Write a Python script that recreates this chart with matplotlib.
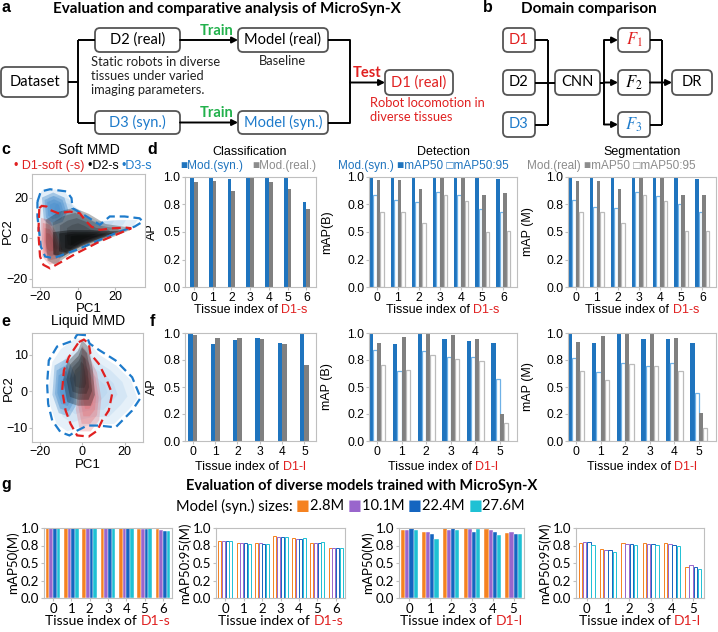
import matplotlib
matplotlib.use('Agg')
import matplotlib.pyplot as plt
import numpy as np
from matplotlib.patches import FancyBboxPatch, Polygon
from matplotlib.ticker import FormatStrFormatter

plt.rcParams['mathtext.fontset'] = 'stix'

# ---------------- data ----------------
tissues_s = [0, 1, 2, 3, 4, 5, 6]
tissues_l = [0, 1, 2, 3, 4, 5]

cls_s_syn = [1.0, 1.0, 0.98, 1.0, 1.0, 1.0, 0.775]
cls_s_real = [0.95, 0.965, 0.875, 0.995, 0.95, 0.89, 0.71]
det_s_syn50 = [1.0, 1.0, 1.0, 1.0, 1.0, 1.0, 0.98]
det_s_syn5095 = [0.835, 0.79, 0.775, 0.86, 0.84, 0.71, 0.68]
det_s_real50 = [0.97, 0.97, 0.89, 1.0, 1.0, 0.84, 0.85]
det_s_real5095 = [0.68, 0.685, 0.58, 0.84, 0.785, 0.50, 0.51]
seg_s_syn50 = [1.0, 1.0, 1.0, 1.0, 1.0, 1.0, 0.985]
seg_s_syn5095 = [0.79, 0.73, 0.72, 0.86, 0.83, 0.75, 0.685]
seg_s_real50 = [0.965, 0.96, 0.89, 1.0, 1.0, 0.835, 0.84]
seg_s_real5095 = [0.685, 0.68, 0.58, 0.835, 0.78, 0.505, 0.51]

cls_l_syn = [0.988, 0.896, 0.936, 0.957, 0.905, 0.994]
cls_l_real = [0.98, 0.957, 0.95, 0.945, 0.902, 0.70]
det_l_syn50 = [0.994, 0.90, 1.0, 0.94, 0.93, 0.91]
det_l_syn5095 = [0.84, 0.645, 0.83, 0.78, 0.774, 0.575]
det_l_real50 = [0.91, 0.966, 1.0, 0.98, 0.945, 0.25]
det_l_real5095 = [0.70, 0.657, 0.80, 0.76, 0.737, 0.17]
seg_l_syn50 = [1.0, 0.908, 1.0, 0.948, 0.948, 0.908]
seg_l_syn5095 = [0.77, 0.64, 0.726, 0.69, 0.723, 0.44]
seg_l_real50 = [0.917, 0.97, 1.0, 0.988, 0.957, 0.255]
seg_l_real5095 = [0.65, 0.563, 0.717, 0.69, 0.65, 0.123]

size_labels = ['2.8M', '10.1M', '22.4M', '27.6M']
g_s_map50 = [[1.0, 1.0, 0.98, 1.0, 1.0, 0.99, 0.98],
             [1.0, 1.0, 1.0, 1.0, 1.0, 0.98, 0.975],
             [1.0, 1.0, 1.0, 1.0, 1.0, 0.98, 0.96],
             [1.0, 1.0, 1.0, 1.0, 1.0, 1.0, 0.96]]
g_s_map5095 = [[0.81, 0.78, 0.78, 0.88, 0.86, 0.79, 0.72],
               [0.82, 0.79, 0.78, 0.87, 0.85, 0.78, 0.71],
               [0.82, 0.78, 0.77, 0.87, 0.85, 0.79, 0.72],
               [0.82, 0.77, 0.77, 0.87, 0.86, 0.80, 0.72]]
g_l_map50 = [[0.975, 0.95, 1.0, 1.0, 0.98, 0.925],
             [0.975, 0.95, 0.97, 0.99, 0.975, 0.94],
             [1.0, 0.91, 1.0, 0.95, 0.95, 0.91],
             [0.97, 0.846, 0.975, 0.985, 0.90, 0.91]]
g_l_map5095 = [[0.78, 0.70, 0.78, 0.78, 0.78, 0.45],
               [0.80, 0.69, 0.77, 0.77, 0.77, 0.47],
               [0.80, 0.68, 0.77, 0.77, 0.76, 0.45],
               [0.76, 0.66, 0.76, 0.76, 0.75, 0.42]]

# PCA cloud regions (data coords) and dashed hulls
soft_blue_cloud = [(-21, 20), (-19, 23.5), (-12, 24), (-6, 22), (-3, 17), (3, 12), (12, 8), (22, 9), (32, 9),
                   (30, 6), (20, 3), (8, -1), (-2, -5), (-12, -9), (-17, -8), (-20, -2)]
soft_blue_core = [(-19, 20), (-13, 22.5), (-7, 20), (-5, 14), (-8, 8), (-14, 6), (-18, 9)]
soft_black_cloud = [(-17, 9), (-10, 13), (-2, 15), (6, 12), (15, 7), (26, 5.5), (28, 4), (20, 1), (8, -3),
                    (-4, -8), (-12, -13), (-16, -11), (-17, -2)]
soft_black_core = [(-13, 3), (-4, 4), (6, 4), (16, 3.5), (24, 3.5), (14, 0), (2, -4), (-8, -9), (-13, -8)]
soft_red_cloud = [(-19.5, 10), (-15, 9), (-11, 2), (-8, -6), (-10, -12), (-15, -13), (-19, -9), (-20, 0)]
soft_blue_hull = [(-21.4, 18.0), (-19.6, 23.0), (-14.7, 24.1), (-5.8, 23.0), (-3.2, 19.7), (-2.7, 14.8),
                  (4.8, 10.7), (11.9, 6.6), (17.2, 10.7), (25.1, 10.7), (33.1, 9.8), (34.9, 8.2), (30.4, 5.7),
                  (22.5, 3.3), (11.9, -0.8), (-0.5, -5.7), (-12.9, -9.8), (-17.3, -9.0), (-19.6, -4.1),
                  (-21.4, 10.7)]
soft_red_hull = [(-20.4, 14.8), (-19.1, 15.9), (-16.5, 15.6), (-14.7, 13.9), (-10.3, 12.3), (-4.1, 13.1),
                 (1.2, 12.3), (3.9, 9.0), (7.4, 5.7), (11.9, 4.1), (18.9, 4.9), (26.0, 5.2), (28.7, 4.9),
                 (22.5, 2.5), (11.9, -1.6), (-0.5, -7.4), (-14.7, -14.8), (-18.2, -13.1), (-20.0, -9.0),
                 (-20.9, 2.5)]

liq_blue_cloud = [(-3, 14.5), (2, 14), (8, 10), (16, 7), (23, 3), (26, -2), (22, -5), (15, -9), (6, -9),
                  (-2, -10), (-7, -11), (-12, -9), (-15, -4), (-15.5, 2), (-14, 8), (-10, 11.5)]
liq_blue_core = [(-13, 7), (-7, 9), (-3, 4), (-3, -4), (-6, -7), (-11, -6), (-14, -1)]
liq_black_cloud = [(0, 14), (3, 12), (5, 6), (6, -1), (4, -4), (-2, -4), (-7, -3), (-9, 3), (-7, 8), (-2, 11)]
liq_red_cloud = [(0, 12.5), (3, 10), (7, 5), (9, -2), (8, -8), (4, -11), (-1, -11), (-3, -5), (-1, 3)]
liq_blue_hull = [(-2.4, 15.5), (1.9, 15.3), (3.5, 13.0), (7.8, 11.3), (15.7, 8.4), (23.5, 3.8), (27.5, -1.8),
                 (23.5, -5.3), (15.7, -9.9), (7.8, -9.4), (2.4, -9.4), (-2.4, -10.8), (-6.0, -12.1),
                 (-10.2, -11.2), (-14.1, -8.0), (-16.0, -3.5), (-16.5, 2.0), (-15.7, 8.4), (-11.8, 12.2),
                 (-3.9, 13.9)]
liq_red_hull = [(-1.6, 13.4), (0.8, 14.1), (3.1, 13.0), (3.9, 10.2), (7.8, 7.5), (11.0, 3.8), (14.1, -0.7),
                (12.5, -5.3), (9.4, -8.0), (7.1, -10.8), (3.1, -12.4), (-2.4, -12.1), (-5.5, -8.9),
                (-7.8, -5.3), (-9.4, 0.2), (-8.6, 5.7), (-6.3, 9.3), (-3.1, 12.1)]

# ---------------- style ----------------
RED = '#E02020'
BLUE = '#1E7BCB'
GREEN = '#22B14C'
BAR_BLUE = '#1F74BE'
HOL_BLUE = '#6FB1E6'
BAR_GRAY = '#808080'
HOL_GRAY = '#BBBBBB'
SPINE = '#BFBFBF'
SIZE_COLORS = ['#F58220', '#9966CC', '#1565C0', '#1FC1D4']
ARIAL = ['Liberation Sans', 'DejaVu Sans']
CAL = ['Lato', 'DejaVu Sans']

W, H = 718, 632
fig = plt.figure(figsize=(W / 100, H / 100), dpi=100)


def rect(l, t, r, b):
    return [l / W, 1 - b / H, (r - l) / W, (b - t) / H]


ov = fig.add_axes([0, 0, 1, 1])
ov.set_xlim(0, W)
ov.set_ylim(H, 0)
ov.axis('off')
ov.patch.set_alpha(0)
renderer = fig.canvas.get_renderer()


def rich(x, y, parts, fs=8.5, family=ARIAL, weight='normal', ha='center'):
    ts = [ov.text(0, y, s, color=c, fontsize=fs, family=family, weight=weight, ha='left', va='center')
          for s, c in parts]
    ws = [t.get_window_extent(renderer).width for t in ts]
    x0 = x - sum(ws) / 2 if ha == 'center' else x
    for t, w in zip(ts, ws):
        t.set_x(x0)
        x0 += w


def dbox(l, t, r, b, label, color='black', fs=10.5, family=CAL):
    p = FancyBboxPatch((l, t), r - l, b - t, boxstyle='round,pad=0,rounding_size=5',
                       ec='#555555', fc='white', lw=1.3)
    ov.add_patch(p)
    ov.text((l + r) / 2, (t + b) / 2, label, color=color, fontsize=fs, family=family, ha='center', va='center')


def line(xs, ys):
    ov.plot(xs, ys, color='black', lw=1.4, solid_capstyle='butt')


def arrow(x0, y0, x1, y1):
    ov.annotate('', xy=(x1, y1), xytext=(x0, y0),
                arrowprops=dict(arrowstyle='-|>,head_length=0.35,head_width=0.18', color='black', lw=1.4,
                                shrinkA=0, shrinkB=0))


def letter(x, y, s):
    ov.text(x, y, s, fontsize=11.5, weight='bold', family=ARIAL, ha='left', va='center')


# ---------------- panel a ----------------
letter(1, 8, 'a')
ov.text(227, 9, 'Evaluation and comparative analysis of MicroSyn-X', fontsize=11, weight='bold',
        family=CAL, ha='center', va='center')
dbox(1, 67, 68, 97, 'Dataset')
dbox(95, 28, 180, 52, 'D2 (real)')
dbox(238, 28, 328, 52, 'Model (real)')
dbox(95, 111, 180, 134, 'D3 (syn.)', color=BLUE)
dbox(238, 111, 328, 134, 'Model (syn.)', color=BLUE)
dbox(385, 70, 453, 95, 'D1 (real)', color=RED)
line([68, 78], [82, 82])
line([78, 78], [40, 122.5])
line([78, 95], [40, 40])
line([78, 95], [122.5, 122.5])
arrow(180, 40, 238, 40)
arrow(180, 122.5, 238, 122.5)
ov.text(217, 31, 'Train', color=GREEN, fontsize=10.5, weight='bold', family=CAL, ha='center', va='center')
ov.text(217, 113, 'Train', color=GREEN, fontsize=10.5, weight='bold', family=CAL, ha='center', va='center')
line([328, 350, 350, 328], [40, 40, 122.5, 122.5])
arrow(350, 82.5, 385, 82.5)
ov.text(367, 73, 'Test', color=RED, fontsize=10.5, weight='bold', family=CAL, ha='center', va='center')
ov.text(91, 76, 'Static robots in diverse\ntissues under varied\nimaging parameters.', fontsize=9.3,
        family=CAL, ha='left', va='center', linespacing=1.15, color='#222222')
ov.text(282, 61, 'Baseline', fontsize=9.3, family=CAL, ha='center', va='center', color='#222222')
ov.text(370, 110, 'Robot locomotion in\ndiverse tissues', fontsize=9.3, family=CAL, ha='left', va='center',
        linespacing=1.15, color=RED)

# ---------------- panel b ----------------
letter(483, 8, 'b')
ov.text(589, 9, 'Domain comparison', fontsize=11, weight='bold', family=CAL, ha='center', va='center')
dbox(503, 28, 535, 52, 'D1', color=RED)
dbox(503, 70, 535, 95, 'D2')
dbox(503, 112, 535, 137, 'D3', color=BLUE)
dbox(555, 70, 600, 95, 'CNN')
dbox(618, 28, 650, 52, r'$\mathit{F}_1$', color=RED, fs=12)
dbox(618, 70, 650, 95, r'$\mathit{F}_2$', fs=12)
dbox(618, 112, 650, 137, r'$\mathit{F}_3$', color=BLUE, fs=12)
dbox(672, 70, 712, 95, 'DR')
line([535, 548], [40, 40])
line([535, 548], [124.5, 124.5])
line([548, 548], [40, 124.5])
line([535, 555], [82.5, 82.5])
line([600, 604], [82.5, 82.5])
line([604, 604], [40, 124.5])
arrow(604, 40, 618, 40)
arrow(604, 82.5, 618, 82.5)
arrow(604, 124.5, 618, 124.5)
line([650, 662], [40, 40])
line([650, 662], [124.5, 124.5])
line([662, 662], [40, 124.5])
arrow(650, 82.5, 672, 82.5)


# ---------------- panels c / e ----------------
def scale_poly(pts, s):
    a = np.array(pts, dtype=float)
    c = a.mean(axis=0)
    return c + (a - c) * s


def cloud(ax, pts, color, alphas):
    for s, a in zip([1.0, 0.8, 0.6, 0.4], alphas):
        ax.add_patch(Polygon(scale_poly(pts, s), closed=True, fc=color, ec='none', alpha=a, lw=0))


def hull(ax, pts, color):
    ax.add_patch(Polygon(pts, closed=True, fill=False, ec=color, lw=1.6, ls=(0, (4, 2.2))))


def style_scatter_axes(ax):
    for sp in ax.spines.values():
        sp.set_color(SPINE)
    ax.tick_params(labelsize=9, length=2, color=SPINE, pad=1)
    for lab in ax.get_xticklabels() + ax.get_yticklabels():
        lab.set_family(ARIAL)


letter(1, 150, 'c')
axc = fig.add_axes(rect(32, 174, 145, 287))
cloud(axc, soft_blue_cloud, '#7BB3E3', [0.22, 0.18, 0.15, 0.12])
cloud(axc, soft_blue_core, '#2C7CC4', [0.35, 0.3, 0.25, 0.2])
cloud(axc, soft_red_cloud, '#E0393E', [0.25, 0.25, 0.25, 0.25])
cloud(axc, soft_black_cloud, '#1A1A1A', [0.3, 0.25, 0.25, 0.2])
cloud(axc, soft_black_core, '#000000', [0.4, 0.35, 0.3, 0.25])
hull(axc, soft_blue_hull, BLUE)
hull(axc, soft_red_hull, RED)
axc.set_xlim(-24.3, 36)
axc.set_ylim(-24, 31.6)
axc.set_xticks([-20, 0, 20])
axc.set_yticks([-20, 0, 20])
style_scatter_axes(axc)
ov.text(89, 150, 'Soft MMD', fontsize=10, family=ARIAL, ha='center', va='center')
rich(83, 166, [('• D1-soft (-s) ', RED), ('•D2-s ', 'black'), ('•D3-s', BLUE)], fs=9)
ov.text(89, 309, 'PC1', fontsize=9.5, family=ARIAL, ha='center', va='center')
ov.text(8, 231, 'PC2', fontsize=9.5, family=ARIAL, ha='center', va='center', rotation=90)

letter(1, 322, 'e')
axe = fig.add_axes(rect(32, 333, 143, 442))
cloud(axe, liq_blue_cloud, '#8CBDE6', [0.22, 0.18, 0.18, 0.15])
cloud(axe, liq_blue_core, '#2C7CC4', [0.3, 0.3, 0.25, 0.2])
cloud(axe, liq_red_cloud, '#E8585C', [0.25, 0.25, 0.25, 0.25])
cloud(axe, liq_black_cloud, '#111111', [0.3, 0.3, 0.25, 0.2])
hull(axe, liq_blue_hull, BLUE)
hull(axe, liq_red_hull, RED)
axe.set_xlim(-23.6, 28.6)
axe.set_ylim(-13.9, 15.9)
axe.set_xticks([-20, 0, 20])
axe.set_yticks([-10, 0, 10])
style_scatter_axes(axe)
ov.text(88, 321, 'Liquid MMD', fontsize=10, family=ARIAL, ha='center', va='center')
ov.text(34, 339, '• D1-l', fontsize=9.5, family=ARIAL, ha='left', va='center', color=RED)
ov.text(108, 341, '• D2-l', fontsize=9.5, family=ARIAL, ha='left', va='center', color='black')
ov.text(108, 353, '• D3-l', fontsize=9.5, family=ARIAL, ha='left', va='center', color=BLUE)
ov.text(88, 465, 'PC1', fontsize=9.5, family=ARIAL, ha='center', va='center')
ov.text(9, 388, 'PC2', fontsize=9.5, family=ARIAL, ha='center', va='center', rotation=90)


# ---------------- panels d / f ----------------
def bar_axes(box_px, cats, series, styles, width, xlim, ylabel, ylab_x, xlab_y, dset):
    ax = fig.add_axes(rect(*box_px))
    x = np.arange(len(cats))
    n = len(series)
    for i, (vals, (col, hollow)) in enumerate(zip(series, styles)):
        off = (i - (n - 1) / 2) * width
        if hollow:
            ax.bar(x + off, vals, width, facecolor='white', edgecolor=col, linewidth=0.9)
        else:
            ax.bar(x + off, vals, width, color=col, linewidth=0)
    ax.set_xlim(*xlim)
    ax.set_ylim(0, 1.0)
    ax.set_xticks(x)
    ax.set_xticklabels([str(c) for c in cats])
    ax.set_yticks([0, 0.25, 0.5, 0.75, 1.0])
    ax.yaxis.set_major_formatter(FormatStrFormatter('%.1f'))
    for sp in ax.spines.values():
        sp.set_color(SPINE)
    ax.tick_params(labelsize=8.7, length=2, color=SPINE, pad=1.5)
    for lab in ax.get_xticklabels() + ax.get_yticklabels():
        lab.set_family(ARIAL)
    yc = (box_px[1] + box_px[3]) / 2
    ov.text(ylab_x, yc, ylabel, fontsize=9, family=ARIAL, rotation=90, ha='center', va='center')
    xc = (box_px[0] + box_px[2]) / 2
    rich(xc, xlab_y, [('Tissue index of ', 'black'), (dset, RED)], fs=9)
    return ax


S2 = [(BAR_BLUE, False), (BAR_GRAY, False)]
S4 = [(BAR_BLUE, False), (HOL_BLUE, True), (BAR_GRAY, False), (HOL_GRAY, True)]

letter(147, 150, 'd')
ov.text(250, 152, 'Classification', fontsize=9, family=ARIAL, ha='center', va='center')
ov.text(443, 152, 'Detection', fontsize=9, family=ARIAL, ha='center', va='center')
ov.text(642, 152, 'Segmentation', fontsize=9, family=ARIAL, ha='center', va='center')
rich(212, 166, [('■Mod.(syn.)', BAR_BLUE)], fs=8.5)
rich(284, 166, [('■Mod.(real.)', '#8C8C8C')], fs=8.5)
rich(423, 166, [('Mod.(syn.) ■mAP50 □mAP50:95', BAR_BLUE)], fs=8.5)
rich(611, 166, [('Mod.(real) ■mAP50 □mAP50:95', '#8C8C8C')], fs=8.5)

bar_axes((185, 177, 316, 287), tissues_s, [cls_s_syn, cls_s_real], S2, 0.2, (-0.48, 6.52), 'AP', 152, 310, 'D1-s')
bar_axes((369, 177, 517, 287), tissues_s, [det_s_syn50, det_s_syn5095, det_s_real50, det_s_real5095], S4,
         0.17, (-0.36, 6.65), 'mAP(B)', 327, 310, 'D1-s')
bar_axes((568, 177, 716, 287), tissues_s, [seg_s_syn50, seg_s_syn5095, seg_s_real50, seg_s_real5095], S4,
         0.17, (-0.36, 6.65), 'mAP (M)', 528, 310, 'D1-s')

letter(150, 322, 'f')
bar_axes((185, 333, 316, 441), tissues_l, [cls_l_syn, cls_l_real], S2, 0.2, (-0.35, 5.52), 'AP', 152, 467, 'D1-l')
bar_axes((369, 333, 517, 441), tissues_l, [det_l_syn50, det_l_syn5095, det_l_real50, det_l_real5095], S4,
         0.17, (-0.33, 5.7), 'mAP (B)', 327, 467, 'D1-l')
bar_axes((568, 333, 716, 441), tissues_l, [seg_l_syn50, seg_l_syn5095, seg_l_real50, seg_l_real5095], S4,
         0.17, (-0.33, 5.7), 'mAP (M)', 528, 467, 'D1-l')

# ---------------- panel g ----------------
letter(1, 484, 'g')
ov.text(362, 486, 'Evaluation of diverse models trained with MicroSyn-X', fontsize=10.5, weight='bold',
        family=CAL, ha='center', va='center')
parts = [('Model (syn.) sizes: ', 'black')]
for lab, col in zip(size_labels, SIZE_COLORS):
    parts += [('■', col), (lab + ' ', 'black')]
rich(352, 506, parts, fs=10.5, family=CAL)


def g_axes(box_px, cats, series, hollow, ylabel, dset):
    ax = fig.add_axes(rect(*box_px))
    x = np.arange(len(cats))
    w = 0.2
    for i, (vals, col) in enumerate(zip(series, SIZE_COLORS)):
        off = (i - 1.5) * w
        if hollow:
            ax.bar(x + off, vals, w * 0.8, facecolor='white', edgecolor=col, linewidth=0.7)
        else:
            ax.bar(x + off, vals, w, color=col, edgecolor='white', linewidth=0.3)
    ax.set_xlim(-0.5, len(cats) - 0.5)
    ax.set_ylim(0, 1.0)
    ax.set_xticks(x)
    ax.set_xticklabels([str(c) for c in cats])
    ax.set_yticks([0, 0.25, 0.5, 0.75, 1.0])
    ax.yaxis.set_major_formatter(FormatStrFormatter('%.1f'))
    for sp in ax.spines.values():
        sp.set_color(SPINE)
    ax.tick_params(labelsize=9.5, length=2, color=SPINE, pad=1.5)
    for lab in ax.get_xticklabels() + ax.get_yticklabels():
        lab.set_family(CAL)
    yc = (box_px[1] + box_px[3]) / 2
    ov.text(box_px[0] - 31, yc, ylabel, fontsize=9.5, family=CAL, rotation=90, ha='center', va='center')
    xc = (box_px[0] + box_px[2]) / 2
    rich(xc, 621, [('Tissue index of ', 'black'), (dset, RED)], fs=10, family=CAL)
    return ax


g_axes((44, 528, 172, 598), tissues_s, g_s_map50, False, 'mAP50(M)', 'D1-s')
g_axes((216, 528, 345, 598), tissues_s, g_s_map5095, True, 'mAP50:95(M)', 'D1-s')
g_axes((399, 528, 524, 598), tissues_l, g_l_map50, False, 'mAP50(M)', 'D1-l')
g_axes((576, 528, 704, 598), tissues_l, g_l_map5095, True, 'mAP50:95(M)', 'D1-l')

fig.savefig('out.png', dpi=100)
